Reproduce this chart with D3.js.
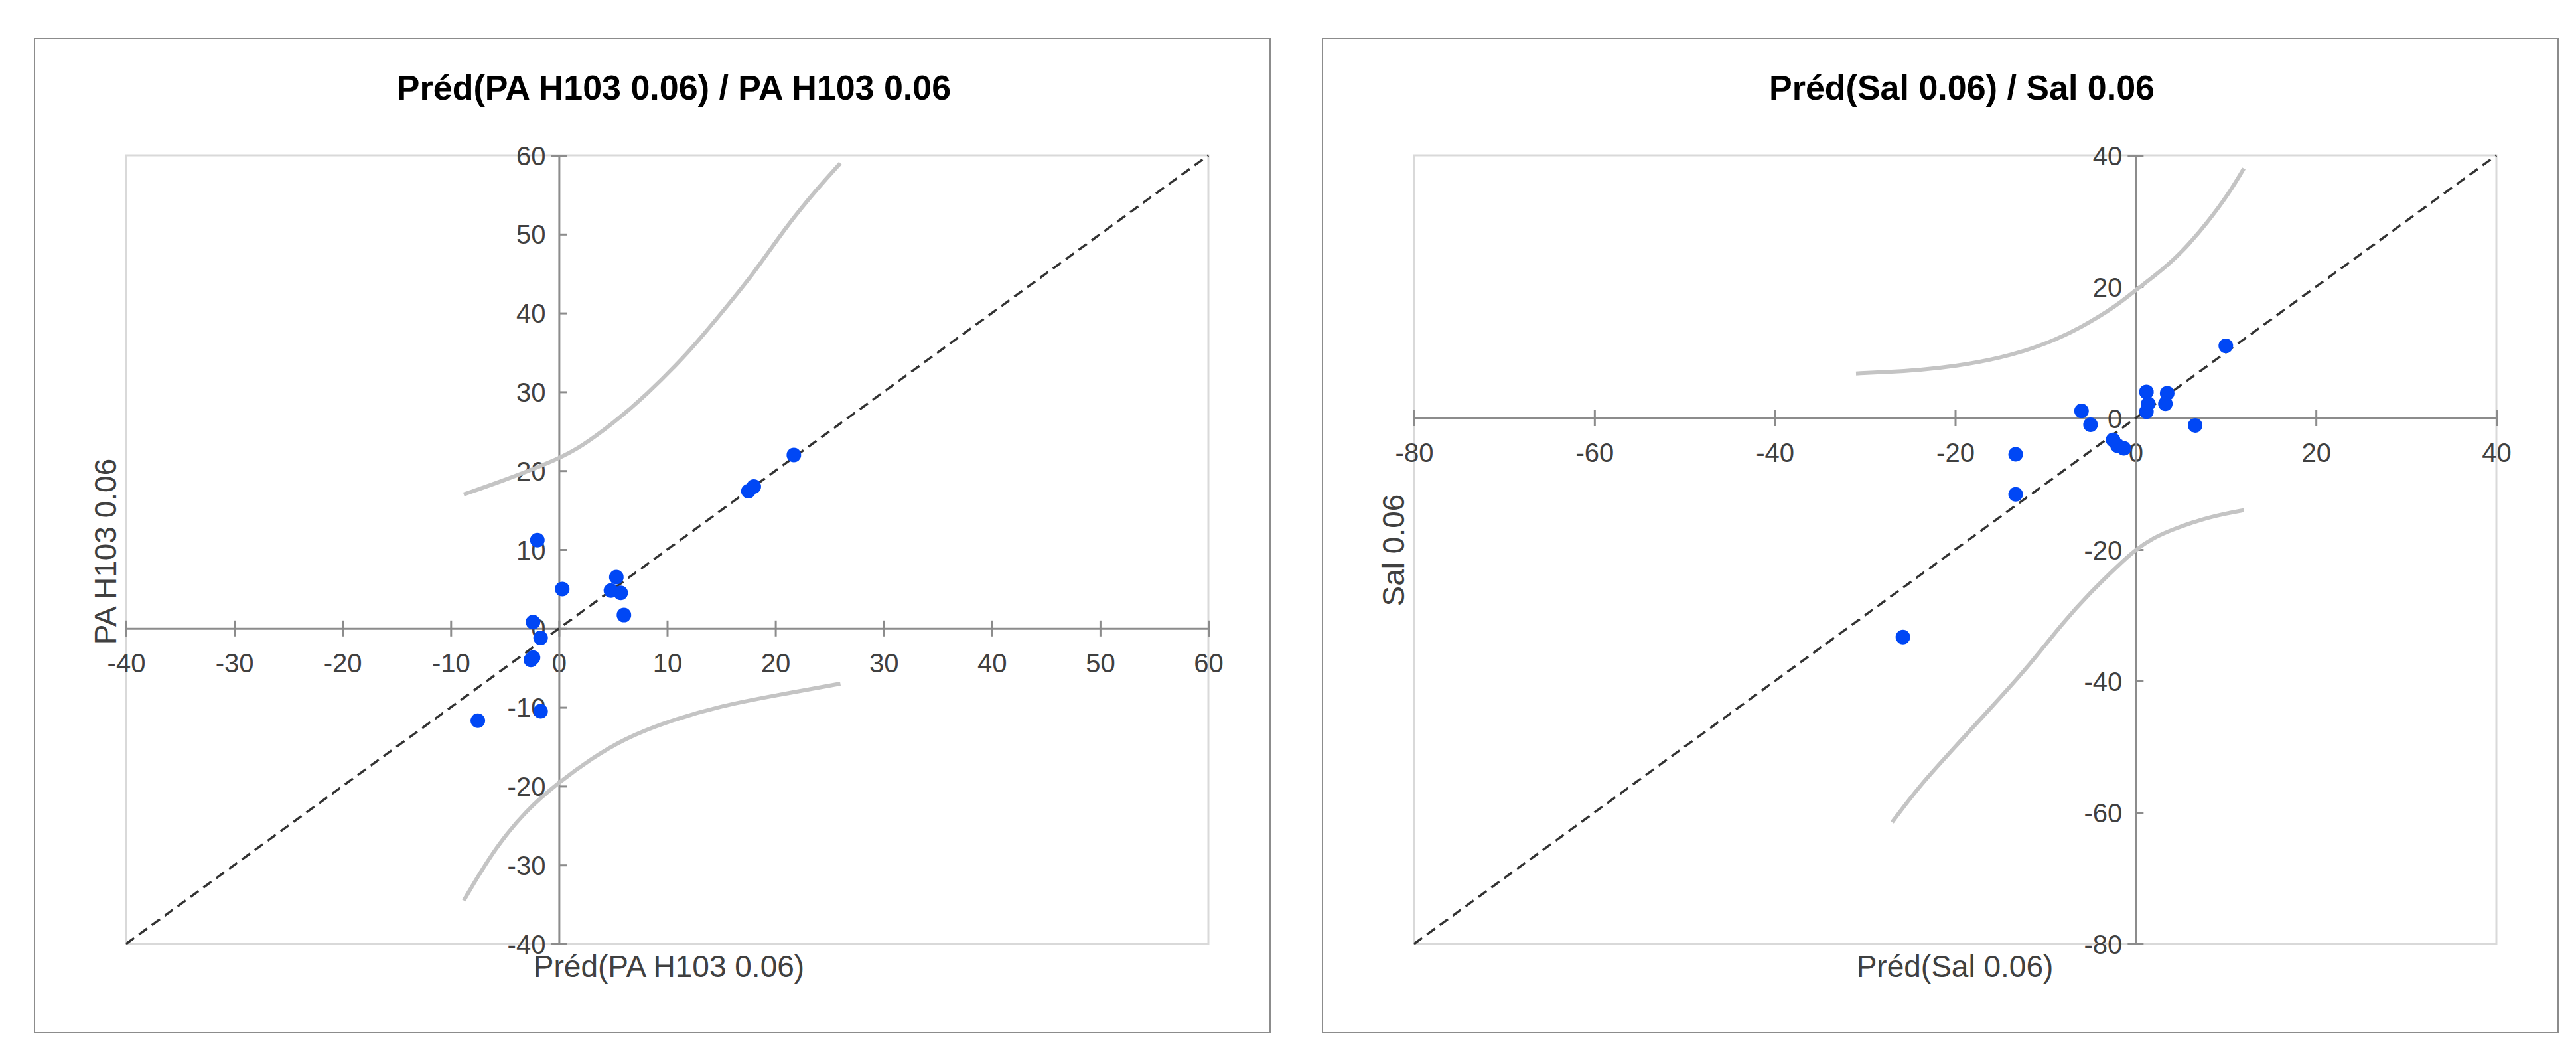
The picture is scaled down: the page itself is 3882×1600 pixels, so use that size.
<!DOCTYPE html><html><head><meta charset="utf-8"><script src="https://cdn.jsdelivr.net/npm/d3@7"></script>
<style>body{margin:0;background:#fff}text{font-family:"Liberation Sans Narrow","Arial Narrow","Liberation Sans",Arial,sans-serif}</style></head><body>
<svg id="c" width="3882" height="1600"></svg>
<script>
const leftTitle="Préd(PA H103 0.06) / PA H103 0.06", leftX="Préd(PA H103 0.06)", leftY="PA H103 0.06";
const leftTicks=[-40,-30,-20,-10,0,10,20,30,40,50,60];
const leftPred=[-2,0.3,5.3,4.8,5.7,6,-2.4,-1.7,-2.6,-2.4,-1.7,-7.5,17.5,18,21.7];
const leftObs=[11.2,5,6.5,4.8,4.5,1.7,0.8,-1.2,-4,-3.7,-10.5,-11.7,17.4,18,22];
const leftUpX=[-8.8,-5,0,2,5,8,12,15,18,21,24,26];
const leftUpY=[17,18.8,21.5,23,26,29.5,35,40,45,51,56,59];
const leftLoX=[-8.8,-6,-3,0,3,6,10,15,20,26];
const leftLoY=[-34.5,-28,-23,-19.5,-16.5,-14,-11.8,-9.8,-8.5,-7];
const rightTitle="Préd(Sal 0.06) / Sal 0.06", rightX="Préd(Sal 0.06)", rightY="Sal 0.06";
const rightTicks=[-80,-60,-40,-20,0,20,40];
const rightPred=[10,1.2,3.5,1.4,3.3,1.2,-6,-5,6.6,-2.5,-2,-1.3,-13.3,-13.3,-25.8];
const rightObs=[11,4,3.8,2.2,2.2,1,1.1,-1,-1.1,-3.3,-4.2,-4.6,-5.5,-11.6,-33.3];
const rightUpX=[-31,-28,-24,-20,-15,-10,-6,-2,0,2,5,8,10.5,12];
const rightUpY=[6.8,7,7.3,7.9,9.1,11.2,13.8,17.2,19.5,21.5,25,29.8,34.5,38];
const rightLoX=[12,10,7,4,2,0,-2,-5,-8,-12,-16,-20,-24,-27];
const rightLoY=[-14,-14.5,-15.5,-17,-18.2,-20,-22.5,-26.5,-31,-38,-44,-50,-56,-61.5];

const svg=d3.select("#c");
function panel(ox,cfg){
  const g=svg.append("g").attr("transform",`translate(${ox},0)`);
  g.append("rect").attr("x",52).attr("y",58).attr("width",1862).attr("height",1498).attr("fill","#fff").attr("stroke","#8c8c8c").attr("stroke-width",2);
  const L=190,R=1821,T=234,B=1422;
  const dom=[cfg.ticks[0],cfg.ticks[cfg.ticks.length-1]];
  const x=d3.scaleLinear().domain(dom).range([L,R]);
  const y=d3.scaleLinear().domain(dom).range([B,T]);
  g.append("rect").attr("x",L).attr("y",T).attr("width",R-L).attr("height",B-T).attr("fill","none").attr("stroke","#d9d9d9").attr("stroke-width",3);
  g.append("text").attr("x",(L+R)/2+10).attr("y",150).attr("text-anchor","middle").attr("font-size",52).attr("font-weight","bold").text(cfg.title);
  const fmt=d=>String(d);
  const xa=g.append("g").attr("transform",`translate(0,${y(0)})`).call(d3.axisBottom(x).tickValues(cfg.ticks).tickSize(12).tickFormat(fmt));
  const ya=g.append("g").attr("transform",`translate(${x(0)},0)`).call(d3.axisLeft(y).tickValues(cfg.ticks).tickSize(12).tickFormat(fmt));
  [xa,ya].forEach(a=>{a.select(".domain").attr("stroke","#8c8c8c").attr("stroke-width",3);
    a.selectAll(".tick line").attr("stroke","#8c8c8c").attr("stroke-width",3);
    a.selectAll("text").attr("font-size",40).attr("fill","#404040");});
  xa.selectAll(".tick line").attr("y1",-12).attr("y2",12);
  xa.selectAll(".tick text").attr("y",38);
  ya.selectAll(".tick line").attr("x1",12).attr("x2",0);
  ya.selectAll(".tick text").attr("x",-20).attr("dy","0.35em");
  g.append("line").attr("x1",x(dom[0])).attr("y1",y(dom[0])).attr("x2",x(dom[1])).attr("y2",y(dom[1])).attr("stroke","#333").attr("stroke-width",3.5).attr("stroke-dasharray","15,9");
  const line2=d3.line().x(d=>x(d[0])).y(d=>y(d[1])).curve(d3.curveBasis);
  [[cfg.upX,cfg.upY],[cfg.loX,cfg.loY]].forEach(([xs,ys])=>{
    g.append("path").attr("d",line2(xs.map((v,i)=>[v,ys[i]]))).attr("fill","none").attr("stroke","#c4c4c4").attr("stroke-width",6);});
  g.selectAll("circle.p").data(cfg.px.map((v,i)=>[v,cfg.py[i]])).enter().append("circle")
    .attr("cx",d=>x(d[0])).attr("cy",d=>y(d[1])).attr("r",11).attr("fill","#0047f5");
  g.append("text").attr("x",cfg.xlx).attr("y",1472).attr("text-anchor","middle").attr("font-size",46).attr("fill","#404040").text(cfg.xl);
  g.append("text").attr("transform",`translate(${cfg.ylx},${cfg.yly}) rotate(-90)`).attr("text-anchor","middle").attr("font-size",46).attr("fill","#404040").text(cfg.yl);
}
panel(0,{title:leftTitle,xl:leftX,yl:leftY,ticks:leftTicks,px:leftPred,py:leftObs,upX:leftUpX,upY:leftUpY,loX:leftLoX,loY:leftLoY,xlx:1008,ylx:175,yly:831});
panel(1941,{title:rightTitle,xl:rightX,yl:rightY,ticks:rightTicks,px:rightPred,py:rightObs,upX:rightUpX,upY:rightUpY,loX:rightLoX,loY:rightLoY,xlx:1005,ylx:175,yly:829});
</script></body></html>
